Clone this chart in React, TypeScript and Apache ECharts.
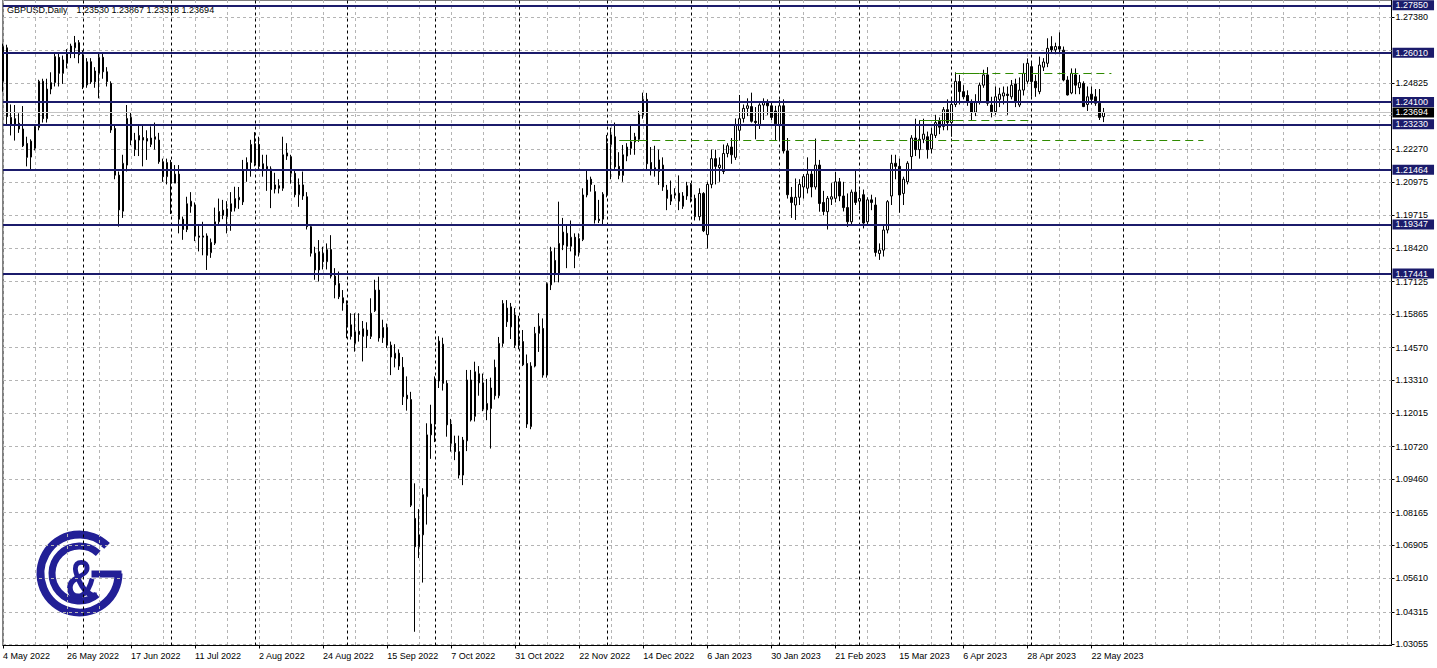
import React, { useEffect, useRef } from 'react';
import * as echarts from 'echarts';

const FONT = '"Liberation Sans", Arial, sans-serif';
const SYMBOL_TITLE = 'GBPUSD,Daily';
const LAST_QUOTE = '1.23530 1.23867 1.23318 1.23694';
const START_DATE = '2022-05-04';
const SKIPPED_DAYS = ['2022-12-26'];
const MONTHS = ['Jan', 'Feb', 'Mar', 'Apr', 'May', 'Jun', 'Jul', 'Aug', 'Sep', 'Oct', 'Nov', 'Dec'];
const SLOT_COUNT = 348;
const LABEL_EVERY = 16;
const GRID_EVERY = 8;
const SEPARATOR_LIMIT = 281;

// [open, high, low, close]
const CANDLES: number[][] = [
  [1.2490,1.2636,1.2450,1.2625],[1.2620,1.2632,1.2320,1.2353],[1.2350,1.2400,1.2280,1.2322],[1.2345,1.2398,1.2260,1.2320],
  [1.2327,1.2366,1.2290,1.2305],[1.2305,1.2394,1.2235,1.2240],[1.2249,1.2275,1.2160,1.2195],[1.2196,1.2265,1.2146,1.2258],
  [1.2230,1.2320,1.2222,1.2315],[1.2311,1.2496,1.2300,1.2490],[1.2490,1.2500,1.2330,1.2345],[1.2345,1.2500,1.2330,1.2460],
  [1.2460,1.2525,1.2440,1.2485],[1.2485,1.2598,1.2470,1.2586],[1.2583,1.2598,1.2470,1.2521],[1.2521,1.2590,1.2480,1.2573],
  [1.2560,1.2615,1.2540,1.2601],[1.2601,1.2636,1.2580,1.2627],[1.2620,1.2666,1.2580,1.2640],[1.2640,1.2650,1.2560,1.2593],
  [1.2592,1.2610,1.2460,1.2476],[1.2476,1.2580,1.2465,1.2566],[1.2566,1.2580,1.2480,1.2488],[1.2488,1.2545,1.2465,1.2530],
  [1.2521,1.2596,1.2424,1.2583],[1.2583,1.2596,1.2500,1.2527],[1.2527,1.2545,1.2470,1.2489],[1.2482,1.2490,1.2290,1.2301],
  [1.2307,1.2320,1.2110,1.2126],[1.2126,1.2140,1.1926,1.1991],[1.1986,1.2205,1.1960,1.2172],[1.2165,1.2398,1.2140,1.2346],
  [1.2350,1.2368,1.2242,1.2262],[1.2225,1.2290,1.2200,1.2262],[1.2262,1.2320,1.2200,1.2280],[1.2272,1.2320,1.2160,1.2262],
  [1.2268,1.2300,1.2185,1.2258],[1.2245,1.2315,1.2235,1.2270],[1.2265,1.2330,1.2225,1.2275],[1.2262,1.2290,1.2170,1.2178],
  [1.2178,1.2190,1.2100,1.2120],[1.2120,1.2190,1.2090,1.2175],[1.2175,1.2185,1.1975,1.2095],[1.2095,1.2165,1.2095,1.2130],
  [1.2130,1.2165,1.1900,1.1955],[1.1955,1.1965,1.1875,1.1915],[1.1915,1.2042,1.1905,1.2015],[1.2005,1.2060,1.1980,1.2025],
  [1.2010,1.2020,1.1870,1.1890],[1.1890,1.1935,1.1830,1.1885],[1.1885,1.1945,1.1815,1.1890],[1.1890,1.1900,1.1758,1.1815],
  [1.1825,1.1880,1.1805,1.1865],[1.1862,1.2000,1.1855,1.1945],[1.1945,1.2035,1.1935,1.1985],[1.1990,1.2030,1.1955,1.1970],
  [1.1965,1.2025,1.1900,1.1995],[1.1985,1.2060,1.1910,1.2015],[1.1999,1.2081,1.1985,1.2035],[1.2030,1.2080,1.1995,1.2040],
  [1.2022,1.2185,1.2010,1.2146],[1.2146,1.2195,1.2100,1.2175],[1.2175,1.2263,1.2120,1.2245],[1.2172,1.2293,1.2160,1.2248],
  [1.2245,1.2275,1.2150,1.2160],[1.2170,1.2205,1.2120,1.2150],[1.2150,1.2205,1.2065,1.2160],[1.2150,1.2160,1.1998,1.2070],
  [1.2072,1.2135,1.2055,1.2088],[1.2085,1.2110,1.2055,1.2075],[1.2075,1.2275,1.2065,1.2205],[1.2212,1.2250,1.2185,1.2200],
  [1.2197,1.2205,1.2093,1.2133],[1.2133,1.2145,1.2040,1.2050],[1.2050,1.2113,1.2003,1.2088],[1.2088,1.2140,1.2030,1.2045],
  [1.2042,1.2060,1.1915,1.1926],[1.1926,1.1935,1.1810,1.1823],[1.1823,1.1848,1.1720,1.1758],[1.1758,1.1874,1.1713,1.1829],
  [1.1822,1.1848,1.1760,1.1790],[1.1790,1.1861,1.1760,1.1837],[1.1837,1.1893,1.1725,1.1734],[1.1734,1.1765,1.1648,1.1700],
  [1.1705,1.1752,1.1645,1.1654],[1.1650,1.1680,1.1600,1.1630],[1.1623,1.1640,1.1493,1.1545],[1.1545,1.1590,1.1488,1.1500],
  [1.1473,1.1590,1.1441,1.1518],[1.1520,1.1590,1.1480,1.1508],[1.1500,1.1560,1.1403,1.1530],[1.1525,1.1555,1.1455,1.1503],
  [1.1500,1.1648,1.1490,1.1590],[1.1600,1.1720,1.1595,1.1680],[1.1680,1.1732,1.1480,1.1494],[1.1495,1.1565,1.1475,1.1535],
  [1.1535,1.1550,1.1455,1.1466],[1.1466,1.1480,1.1350,1.1420],[1.1415,1.1470,1.1380,1.1435],[1.1435,1.1450,1.1370,1.1385],
  [1.1380,1.1420,1.1234,1.1266],[1.1272,1.1345,1.1212,1.1258],[1.1255,1.1285,1.0838,1.0845],[1.0794,1.0930,1.0354,1.0684],
  [1.0684,1.0830,1.0640,1.0730],[1.0730,1.0911,1.0545,1.0886],[1.0878,1.1163,1.0770,1.1118],[1.1118,1.1235,1.1025,1.1160],
  [1.1160,1.1345,1.1090,1.1327],[1.1327,1.1501,1.1300,1.1482],[1.1470,1.1495,1.1290,1.1318],[1.1318,1.1330,1.1111,1.1157],
  [1.1160,1.1180,1.1053,1.1085],[1.1085,1.1115,1.1020,1.1053],[1.1053,1.1115,1.0949,1.0962],[1.0962,1.1110,1.0923,1.1098],
  [1.1095,1.1370,1.1055,1.1331],[1.1331,1.1370,1.1170,1.1176],[1.1190,1.1402,1.1170,1.1363],[1.1355,1.1385,1.1270,1.1320],
  [1.1320,1.1356,1.1210,1.1218],[1.1215,1.1335,1.1175,1.1240],[1.1220,1.1340,1.1065,1.1300],[1.1380,1.1410,1.1255,1.1270],
  [1.1270,1.1498,1.1260,1.1473],[1.1473,1.1641,1.1460,1.1628],[1.1610,1.1641,1.1537,1.1557],[1.1537,1.1630,1.1490,1.1615],
  [1.1583,1.1610,1.1455,1.1466],[1.1466,1.1580,1.1450,1.1485],[1.1480,1.1525,1.1385,1.1390],[1.1395,1.1430,1.1145,1.1160],
  [1.1150,1.1400,1.1140,1.1385],[1.1385,1.1537,1.1380,1.1512],[1.1512,1.1590,1.1440,1.1540],[1.1531,1.1570,1.1340,1.1350],
  [1.1350,1.1710,1.1340,1.1705],[1.1700,1.1848,1.1680,1.1830],[1.1795,1.1845,1.1710,1.1745],[1.1745,1.2023,1.1710,1.1861],
  [1.1855,1.1960,1.1835,1.1905],[1.1900,1.1935,1.1765,1.1850],[1.1850,1.1950,1.1830,1.1885],[1.1885,1.1900,1.1765,1.1815],
  [1.1825,1.1900,1.1810,1.1880],[1.1876,1.2075,1.1870,1.2049],[1.2049,1.2146,1.2040,1.2107],[1.2110,1.2120,1.2062,1.2090],
  [1.2062,1.2088,1.1938,1.1952],[1.1955,1.2030,1.1940,1.1950],[1.1955,1.2060,1.1932,1.2052],[1.2049,1.2282,1.2040,1.2250],
  [1.2245,1.2310,1.2110,1.2282],[1.2275,1.2330,1.2150,1.2158],[1.2160,1.2215,1.2110,1.2125],[1.2125,1.2243,1.2100,1.2205],
  [1.2200,1.2250,1.2180,1.2235],[1.2230,1.2320,1.2205,1.2255],[1.2255,1.2290,1.2205,1.2275],[1.2265,1.2375,1.2255,1.2360],
  [1.2360,1.2446,1.2345,1.2420],[1.2420,1.2445,1.2145,1.2170],[1.2175,1.2235,1.2125,1.2150],[1.2145,1.2240,1.2120,1.2155],
  [1.2140,1.2225,1.2088,1.2185],[1.2165,1.2195,1.2065,1.2080],[1.2068,1.2088,1.1990,1.2036],[1.2025,1.2105,1.2010,1.2050],
  [1.2048,1.2075,1.2035,1.2055],[1.2056,1.2125,1.1990,1.2025],[1.2005,1.2060,1.1995,1.2045],[1.2045,1.2100,1.2030,1.2085],
  [1.2090,1.2095,1.2020,1.2040],[1.2036,1.2050,1.1950,1.1965],[1.1965,1.2075,1.1950,1.2055],[1.2055,1.2060,1.1905,1.1910],
  [1.1895,1.2100,1.1841,1.2090],[1.2090,1.2225,1.2075,1.2190],[1.2190,1.2225,1.2090,1.2160],[1.2155,1.2195,1.2100,1.2165],
  [1.2140,1.2245,1.2130,1.2210],[1.2210,1.2250,1.2195,1.2240],[1.2235,1.2270,1.2170,1.2205],[1.2195,1.2346,1.2185,1.2320],
  [1.2300,1.2437,1.2260,1.2345],[1.2346,1.2400,1.2330,1.2385],[1.2385,1.2424,1.2355,1.2395],[1.2392,1.2446,1.2330,1.2335],
  [1.2335,1.2390,1.2265,1.2330],[1.2320,1.2405,1.2305,1.2398],[1.2398,1.2424,1.2340,1.2410],[1.2410,1.2420,1.2360,1.2395],
  [1.2395,1.2410,1.2340,1.2350],[1.2375,1.2395,1.2260,1.2325],[1.2318,1.2418,1.2265,1.2395],[1.2395,1.2420,1.2210,1.2220],
  [1.2220,1.2270,1.2035,1.2050],[1.2040,1.2080,1.1960,1.2020],[1.2010,1.2113,1.1952,1.2040],[1.2040,1.2110,1.2010,1.2090],
  [1.2080,1.2130,1.2035,1.2120],[1.2075,1.2195,1.2055,1.2130],[1.2130,1.2145,1.2040,1.2080],[1.2080,1.2268,1.2070,1.2165],
  [1.2165,1.2185,1.1984,1.2016],[1.2020,1.2065,1.1970,1.1985],[1.1984,1.2045,1.1915,1.2036],[1.2033,1.2095,1.2010,1.2042],
  [1.2036,1.2139,1.2020,1.2100],[1.2100,1.2115,1.2025,1.2045],[1.2045,1.2100,1.1985,1.2000],[1.2000,1.2055,1.1925,1.1945],
  [1.1945,1.2070,1.1935,1.2060],[1.2060,1.2143,1.2010,1.2020],[1.2025,1.2070,1.1990,1.2035],[1.2050,1.2070,1.1919,1.1940],
  [1.1945,1.2040,1.1935,1.2030],[1.2030,1.2050,1.1990,1.2020],[1.2010,1.2040,1.1810,1.1826],[1.1822,1.1861,1.1797,1.1835],
  [1.1835,1.1930,1.1810,1.1913],[1.1913,1.2029,1.1900,1.2023],[1.2045,1.2205,1.2010,1.2172],[1.2172,1.2205,1.2110,1.2160],
  [1.2160,1.2190,1.1980,1.2049],[1.2055,1.2120,1.2010,1.2110],[1.2100,1.2180,1.2090,1.2172],[1.2198,1.2281,1.2145,1.2270],
  [1.2270,1.2345,1.2200,1.2225],[1.2225,1.2340,1.2190,1.2265],[1.2265,1.2345,1.2250,1.2285],[1.2275,1.2295,1.2190,1.2225],
  [1.2228,1.2310,1.2210,1.2285],[1.2280,1.2360,1.2270,1.2330],[1.2335,1.2350,1.2285,1.2312],[1.2315,1.2390,1.2300,1.2380],
  [1.2380,1.2420,1.2300,1.2330],[1.2330,1.2420,1.2275,1.2400],[1.2400,1.2525,1.2390,1.2490],[1.2489,1.2515,1.2400,1.2450],
  [1.2450,1.2475,1.2420,1.2430],[1.2435,1.2455,1.2395,1.2410],[1.2410,1.2420,1.2340,1.2370],[1.2370,1.2440,1.2355,1.2410],
  [1.2410,1.2485,1.2400,1.2475],[1.2475,1.2535,1.2465,1.2515],[1.2515,1.2545,1.2395,1.2405],[1.2398,1.2430,1.2350,1.2372],
  [1.2372,1.2470,1.2360,1.2430],[1.2420,1.2465,1.2390,1.2440],[1.2433,1.2470,1.2400,1.2445],[1.2440,1.2470,1.2360,1.2435],
  [1.2430,1.2495,1.2420,1.2475],[1.2480,1.2500,1.2390,1.2410],[1.2398,1.2505,1.2390,1.2456],[1.2456,1.2560,1.2435,1.2521],
  [1.2490,1.2579,1.2480,1.2560],[1.2547,1.2566,1.2430,1.2489],[1.2490,1.2515,1.2430,1.2465],[1.2450,1.2586,1.2440,1.2553],
  [1.2545,1.2580,1.2530,1.2565],[1.2560,1.2657,1.2545,1.2618],[1.2625,1.2665,1.2600,1.2612],[1.2612,1.2640,1.2595,1.2625],
  [1.2625,1.2680,1.2600,1.2615],[1.2611,1.2625,1.2490,1.2495],[1.2495,1.2510,1.2435,1.2437],[1.2445,1.2540,1.2440,1.2521],
  [1.2515,1.2540,1.2440,1.2475],[1.2465,1.2515,1.2440,1.2485],[1.2482,1.2490,1.2390,1.2392],[1.2400,1.2470,1.2375,1.2430],
  [1.2440,1.2470,1.2400,1.2420],[1.2430,1.2460,1.2395,1.2405],[1.2405,1.2460,1.2340,1.2350],[1.23530,1.23867,1.23318,1.23694],
];

const TICK_LABELS = [1.03055, 1.04315, 1.05610, 1.06905, 1.08165, 1.09460, 1.10720, 1.12015, 1.13310, 1.14570,
  1.15865, 1.17125, 1.18420, 1.19715, 1.20975, 1.22270, 1.24825, 1.27380];
const GRID_LEVELS = [1.03055, 1.04315, 1.05610, 1.06905, 1.08165, 1.09460, 1.10720, 1.12015, 1.13310, 1.14570,
  1.15865, 1.17125, 1.18420, 1.19715, 1.20975, 1.22270, 1.23565, 1.24825, 1.26120, 1.27380];
const LEVELS = [1.27850, 1.26010, 1.24100, 1.23230, 1.21464, 1.19347, 1.17441];
const BID = 1.23694;
// price, first bar, end of solid part, last bar
const TREND_SEGMENTS = [
  { price: 1.2522, from: 238, solidTo: 244, to: 277 },
  { price: 1.2340, from: 229, solidTo: 238, to: 257 },
  { price: 1.2263, from: 154, solidTo: 159, to: 300 },
];

const Y_MIN = 1.030072;
const Y_MAX = 1.280557;
const NAVY = '#1b1b6b';
const GREEN = '#2f8a00';
const GRID_GRAY = '#b4b4b4';
const LOGO = '#221f96';

function buildCalendar() {
  const names: string[] = [];
  const months: number[] = [];
  const [y, m, d] = START_DATE.split('-').map(Number);
  const day = new Date(Date.UTC(y, m - 1, d));
  while (names.length < SLOT_COUNT) {
    const wd = day.getUTCDay();
    const iso = day.toISOString().slice(0, 10);
    if (wd !== 0 && wd !== 6 && !SKIPPED_DAYS.includes(iso)) {
      names.push(`${day.getUTCDate()} ${MONTHS[day.getUTCMonth()]} ${day.getUTCFullYear()}`);
      months.push(day.getUTCMonth());
    }
    day.setUTCDate(day.getUTCDate() + 1);
  }
  return { names, months };
}

export default function App() {
  const ref = useRef<HTMLDivElement>(null);
  useEffect(() => {
    if (!ref.current) return;
    const chart = echarts.init(ref.current, null, { renderer: 'svg' });
    const { names, months } = buildCalendar();
    const lastBar = CANDLES.length - 1;

    const separators: any[] = [];
    for (let i = 1; i < Math.min(SEPARATOR_LIMIT, names.length); i++) {
      if (months[i] !== months[i - 1]) {
        separators.push({ xAxis: names[i], lineStyle: { color: '#000', type: [3, 3], width: 1 } });
      }
    }
    const gridLines = GRID_LEVELS.map((v) => ({ yAxis: v, lineStyle: { color: GRID_GRAY, type: [3, 3], width: 1 } }));

    const boxLabel = (text: string, bg: string) => ({
      show: true, position: 'end', distance: 1, formatter: text, color: '#fff', backgroundColor: bg,
      padding: [1, 6, 0, 3], fontSize: 9, fontFamily: FONT, lineHeight: 9,
    });

    const levelLines = LEVELS.map((v) => ({
      yAxis: v, lineStyle: { color: NAVY, width: 2, type: 'solid' }, label: boxLabel(v.toFixed(5), NAVY),
    }));
    const bidLine = { yAxis: BID, lineStyle: { color: '#c4c4c4', width: 1, type: 'solid' }, label: boxLabel(BID.toFixed(5), '#000') };
    const trendLines: any[] = [];
    TREND_SEGMENTS.forEach((s) => {
      const solid = { color: GREEN, width: 1, type: 'solid' };
      const dashed = { color: GREEN, width: 1, type: [8, 5] };
      trendLines.push([{ coord: [names[s.from], s.price], lineStyle: solid }, { coord: [names[s.solidTo], s.price], lineStyle: solid }]);
      trendLines.push([{ coord: [names[s.solidTo], s.price], lineStyle: dashed }, { coord: [names[s.to], s.price], lineStyle: dashed }]);
    });

    const D = Math.PI / 180;
    const option: any = {
      animation: false,
      backgroundColor: '#ffffff',
      textStyle: { fontFamily: FONT },
      grid: { left: 3, right: 45.5, top: 0, bottom: 22.5, show: true, borderColor: '#000', borderWidth: 1, backgroundColor: 'transparent' },
      xAxis: {
        type: 'category', data: names, boundaryGap: false,
        axisLine: { show: true, lineStyle: { color: '#000', width: 1 } },
        axisTick: { show: true, length: 3, interval: (i: number) => i % LABEL_EVERY === 0 && i <= lastBar, lineStyle: { color: '#000' } },
        axisLabel: {
          interval: (i: number) => i % LABEL_EVERY === 0 && i <= lastBar,
          align: 'left', margin: 6, fontSize: 9, color: '#000', fontFamily: FONT,
        },
        splitLine: { show: true, interval: (i: number) => i % GRID_EVERY === 0, lineStyle: { color: GRID_GRAY, type: [3, 3], width: 1 } },
      },
      yAxis: {
        type: 'value', position: 'right', min: Y_MIN, max: Y_MAX,
        axisLine: { show: true, lineStyle: { color: '#000', width: 1 } },
        axisTick: { show: true, length: 3, customValues: TICK_LABELS, lineStyle: { color: '#000' } },
        axisLabel: { customValues: TICK_LABELS, formatter: (v: number) => v.toFixed(5), margin: 4, fontSize: 9, color: '#000', fontFamily: FONT },
        splitLine: { show: false },
      },
      graphic: [
        { type: 'text', x: 7, y: 10, style: { text: SYMBOL_TITLE, fontSize: 9, fill: '#000', fontFamily: FONT, verticalAlign: 'middle' } },
        { type: 'text', x: 76.5, y: 10, style: { text: LAST_QUOTE, fontSize: 9, fill: '#000', fontFamily: FONT, verticalAlign: 'middle' } },
        { type: 'arc', shape: { cx: 79.5, cy: 573.5, r: 39, startAngle: 0, endAngle: 315 * D, clockwise: true }, style: { stroke: LOGO, lineWidth: 8, fill: 'none' } },
        { type: 'arc', shape: { cx: 79.5, cy: 573.5, r: 27.5, startAngle: 50 * D, endAngle: 313 * D, clockwise: true }, style: { stroke: LOGO, lineWidth: 7, fill: 'none' } },
        { type: 'rect', shape: { x: 91.5, y: 570.5, width: 30, height: 7 }, style: { fill: LOGO } },
        { type: 'text', x: 81.5, y: 579, scaleX: 0.82, style: { text: '&', fontSize: 56, fontWeight: 'bold', fill: LOGO, fontFamily: FONT, align: 'center', verticalAlign: 'middle' } },
      ],
      series: [
        {
          type: 'line', data: [], z: 1, silent: true,
          markLine: { z: 1, silent: true, precision: 6, symbol: ['none', 'none'], label: { show: false }, animation: false, data: [...gridLines, ...separators] },
        },
        {
          type: 'candlestick', z: 2, clip: false, barWidth: 2,
          data: CANDLES.map(([o, h, l, c]) => [o, c, l, h]),
          itemStyle: { color: '#ffffff', color0: '#000000', borderColor: '#000000', borderColor0: '#000000', borderWidth: 1 },
          markLine: {
            z: 5, silent: true, precision: 6, symbol: ['none', 'none'], label: { show: false }, animation: false,
            data: [bidLine, ...levelLines, ...trendLines],
          },
        },
      ],
    };
    chart.setOption(option);
    return () => chart.dispose();
  }, []);
  return <div ref={ref} style={{ position: 'absolute', left: 0, top: 0, width: 1437, height: 668, background: '#fff' }} />;
}
